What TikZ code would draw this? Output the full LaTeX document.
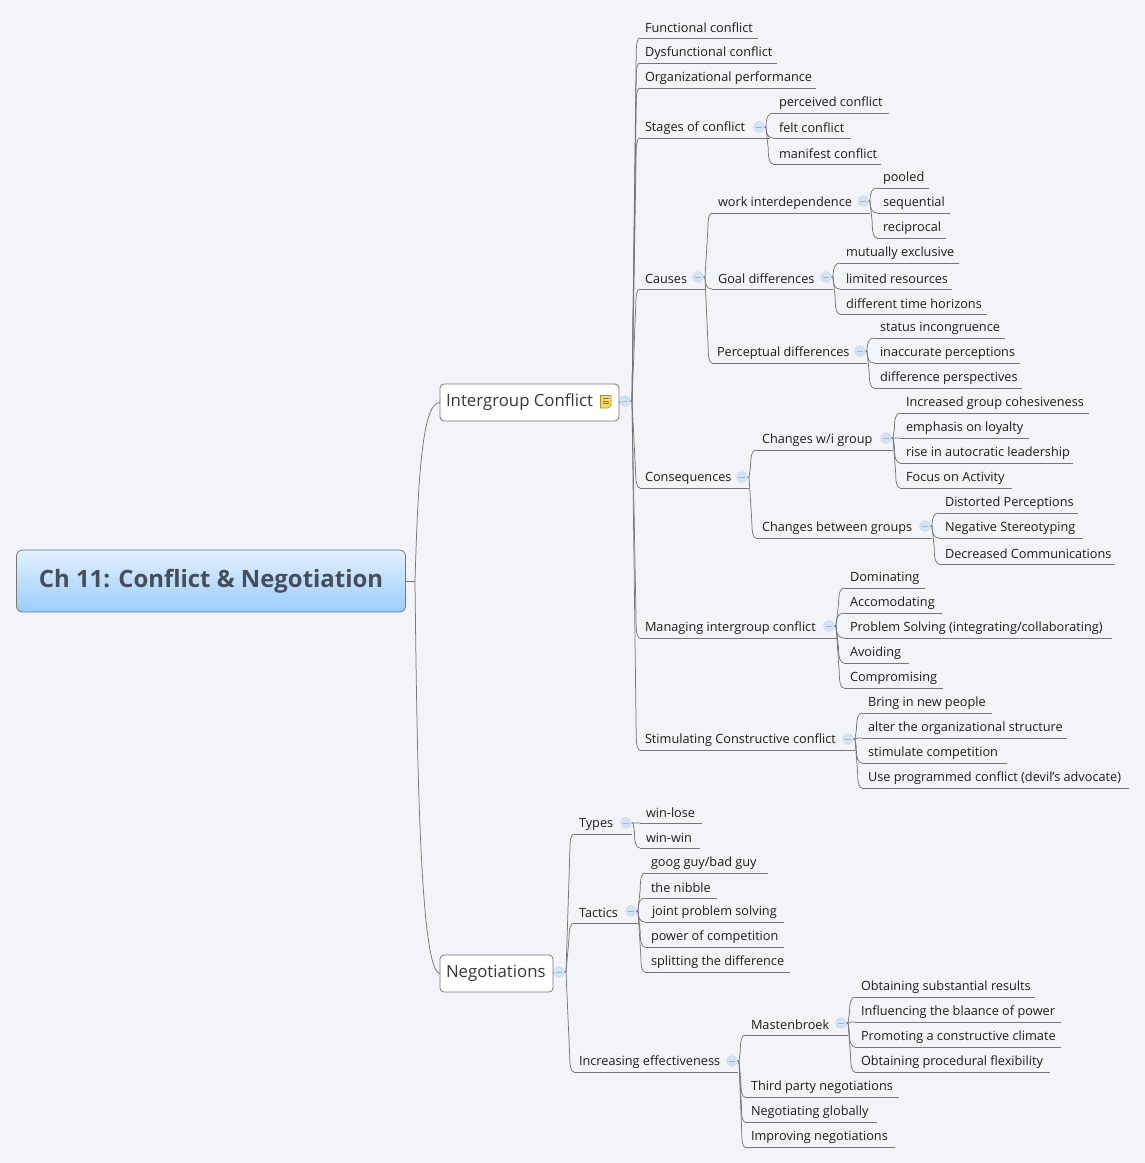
\documentclass[tikz,border=0pt]{standalone}
\usepackage{fontspec}
\setmainfont{Open Sans}
\usetikzlibrary{shadings}
\definecolor{bgc}{HTML}{F2F4F9}
\definecolor{linec}{HTML}{777777}
\definecolor{txtc}{HTML}{1C1C1C}
\definecolor{minusc}{HTML}{D3E2F5}
\definecolor{minusb}{HTML}{C4D8F0}
\definecolor{minusl}{HTML}{9DB8DC}
\definecolor{roottop}{HTML}{E2F0FE}
\definecolor{rootbot}{HTML}{9CCDFF}
\definecolor{roottxt}{HTML}{444F59}
\definecolor{notef}{HTML}{F5DC6E}
\definecolor{noted}{HTML}{C08A1E}
\tikzset{
  conn/.style={draw=linec,line width=0.75pt},
  topicbox/.style={inner sep=0pt,outer sep=0pt,rectangle,text=txtc,font=\fontsize{12.72}{14}\selectfont},
  mainbox/.style={draw=linec,fill=white,rounded corners=4pt,inner sep=0pt,outer sep=0pt,line width=0.8pt,text=black!78,font=\fontsize{16.8}{18}\selectfont},
  collapser/.style={circle,inner sep=0pt,outer sep=0pt,minimum size=11pt,fill=minusc,draw=minusb,line width=0.4pt,
    path picture={\draw[minusl,line width=0.7pt] ([xshift=-3pt]path picture bounding box.center) -- ([xshift=3pt]path picture bounding box.center);}},
}
\newcommand\lnk[2]{%
  \path ([xshift=1.5pt]#1.east); \pgfgetlastxy{\lnkSx}{\lnkSy}%
  \path (#2.south west); \pgfgetlastxy{\lnkEx}{\lnkEy}%
  \pgfmathsetmacro\lnkD{\lnkEy-\lnkSy}%
  \pgfmathsetmacro\lnkA{max(abs(\lnkD),0.01)}%
  \pgfmathsetmacro\lnkG{\lnkD<0?-1:1}%
  \pgfmathsetmacro\lnkR{min(16,\lnkA)}%
  \pgfmathsetmacro\lnkPx{\lnkSx+0.55*(\lnkEx-\lnkSx)*(1-\lnkR/\lnkA)}%
  \pgfmathsetmacro\lnkPy{\lnkEy-\lnkG*\lnkR}%
  \pgfmathsetmacro\lnkCy{\lnkEy-\lnkG*\lnkR*0.35}%
  \pgfmathsetmacro\lnkCx{\lnkPx+0.3*(\lnkEx-\lnkPx)}%
  \draw[conn] (#1.east) -- ([xshift=1.5pt]#1.east) -- (\lnkPx pt,\lnkPy pt) .. controls (\lnkPx pt,\lnkCy pt) and (\lnkCx pt,\lnkEy) .. (#2.south west);%
}
% id, parent, text, text x, underline y, left x, right x
\newcommand\topic[7]{%
  \pgfmathsetmacro\tpW{#7-#6}%
  \pgfmathsetmacro\tpD{#4-#6}%
  \node[topicbox,anchor=south west,minimum width=\tpW pt,minimum height=24pt] (#1) at (#6,#5)
    {\hbox to \tpW pt{\hskip\tpD pt\rule[-1.5pt]{0pt}{15pt}#3\hss}};
  \draw[conn] (#1.south west) -- (#1.south east);
  \lnk{#2}{#1}%
}
\newcommand\mn[3]{\node[collapser] (#1) at (#2,#3) {};}
\begin{document}
\begin{tikzpicture}[x=1pt,y=-1pt]
\fill[bgc] (0,0) rectangle (1145,1163);
\useasboundingbox (0,0) rectangle (1145,1163);
% main
\node[draw=linec,rounded corners=6pt,top color=roottop,bottom color=rootbot,minimum width=389pt,minimum height=62pt,inner sep=0pt,outer sep=0pt,line width=0.8pt,text=roottxt,font=\fontsize{23.9}{26}\selectfont\bfseries] (root) at (211,581) {\raisebox{-1.2pt}{Ch 11: Conflict \& Negotiation}};
\coordinate (rootj) at (415,581);
\draw[conn] (root.east) -- (rootj);
\node[mainbox,minimum width=179pt,minimum height=37pt,anchor=north west] (ig) at (440,384)
  {\hbox to 179pt{\hskip6pt\rule[-5.5pt]{0pt}{18pt}Intergroup Conflict\hss}};
\node[mainbox,minimum width=113pt,minimum height=37pt,anchor=north west] (neg) at (440,955)
  {\hbox to 113pt{\hskip6pt\rule[-5.5pt]{0pt}{18pt}Negotiations\hss}};
% note icon
\draw[draw=noted,fill=notef,line width=0.7pt] (600.5,395.5) -- (611,395.5) -- (611,405) -- (608,408) -- (600.5,408) -- cycle;
\foreach \yy in {398.5,401,403.5} \draw[black!55,line width=0.6pt] (602.5,\yy) -- (609,\yy);
\draw[conn] (rootj) .. controls (418,480) and (422,402) .. (ig.west);
\draw[conn] (rootj) .. controls (417,760) and (420,972) .. (neg.west);
\mn{igm}{625}{401}
\mn{negm}{559}{972}
\draw[conn] (ig.east) -- (igm.west);
\draw[conn] (neg.east) -- (negm.west);
% Intergroup
\topic{a1}{igm}{Functional conflict}{645}{38}{640}{758}
\topic{a2}{igm}{Dysfunctional conflict}{645}{63}{640}{777}
\topic{a3}{igm}{Organizational performance}{645}{88}{640}{816}
\topic{a4}{igm}{Stages of conflict}{645}{138}{640}{770}
\mn{a4m}{759}{127}
\topic{a41}{a4m}{perceived conflict}{779}{113}{773}{889}
\topic{a42}{a4m}{felt conflict}{779}{138}{773}{851}
\topic{a43}{a4m}{manifest conflict}{779}{164}{773}{881}
\topic{a5}{igm}{Causes}{645}{289}{640}{705}
\mn{a5m}{698}{277}
\topic{a51}{a5m}{work interdependence}{718}{213}{712}{870}
\mn{a51m}{863}{201}
\topic{a511}{a51m}{pooled}{883}{188}{877}{929}
\topic{a512}{a51m}{sequential}{883}{213}{877}{950}
\topic{a513}{a51m}{reciprocal}{883}{238}{877}{946}
\topic{a52}{a5m}{Goal differences}{718}{289}{712}{833}
\mn{a52m}{826}{277}
\topic{a521}{a52m}{mutually exclusive}{846}{263}{840}{959}
\topic{a522}{a52m}{limited resources}{846}{289}{840}{952}
\topic{a523}{a52m}{different time horizons}{846}{314}{840}{987}
\topic{a53}{a5m}{Perceptual differences}{717}{363}{712}{867}
\mn{a53m}{860}{351}
\topic{a531}{a53m}{status incongruence}{880}{338}{874}{1005}
\topic{a532}{a53m}{inaccurate perceptions}{880}{363}{874}{1020}
\topic{a533}{a53m}{difference perspectives}{880}{388}{874}{1022}
\topic{a6}{igm}{Consequences}{645}{488}{640}{749}
\mn{a6m}{742}{477}
\topic{a61}{a6m}{Changes w/i group}{762}{450}{756}{893}
\mn{a61m}{886}{438}
\topic{a611}{a61m}{Increased group cohesiveness}{906}{413}{900}{1089}
\topic{a612}{a61m}{emphasis on loyalty}{906}{438}{900}{1029}
\topic{a613}{a61m}{rise in autocratic leadership}{906}{463}{900}{1073}
\topic{a614}{a61m}{Focus on Activity}{906}{488}{900}{1012}
\topic{a62}{a6m}{Changes between groups}{762}{538}{756}{932}
\mn{a62m}{925}{526}
\topic{a621}{a62m}{Distorted Perceptions}{945}{513}{939}{1078}
\topic{a622}{a62m}{Negative Stereotyping}{945}{538}{939}{1083}
\topic{a623}{a62m}{Decreased Communications}{945}{564}{939}{1115}
\topic{a7}{igm}{Managing intergroup conflict}{645}{638}{640}{837}
\mn{a7m}{829}{626}
\topic{a71}{a7m}{Dominating}{850}{588}{844}{925}
\topic{a72}{a7m}{Accomodating}{850}{613}{844}{942}
\topic{a73}{a7m}{Problem Solving (integrating/collaborating)}{850}{638}{844}{1112}
\topic{a74}{a7m}{Avoiding}{850}{663}{844}{909}
\topic{a75}{a7m}{Compromising}{850}{688}{844}{943}
\topic{a8}{igm}{Stimulating Constructive conflict}{645}{750}{640}{855}
\mn{a8m}{848}{739}
\topic{a81}{a8m}{Bring in new people}{868}{713}{862}{992}
\topic{a82}{a8m}{alter the organizational structure}{868}{738}{862}{1067}
\topic{a83}{a8m}{stimulate competition}{868}{763}{862}{1007}
\topic{a84}{a8m}{Use programmed conflict (devil's advocate)}{868}{788}{862}{1129}
% Negotiations
\topic{b1}{negm}{Types}{579}{834}{574}{632}
\mn{b1m}{626}{823}
\topic{b11}{b1m}{win-lose}{646}{823}{640}{702}
\topic{b12}{b1m}{win-win}{646}{848}{640}{700}
\topic{b2}{negm}{Tactics}{579}{923}{574}{638}
\mn{b2m}{631}{911}
\topic{b21}{b2m}{goog guy/bad guy}{651}{873}{645}{768}
\topic{b22}{b2m}{the nibble}{651}{898}{645}{717}
\topic{b23}{b2m}{joint problem solving}{652}{922}{645}{784}
\topic{b24}{b2m}{power of competition}{651}{947}{645}{784}
\topic{b25}{b2m}{splitting the difference}{651}{972}{645}{790}
\topic{b3}{negm}{Increasing effectiveness}{579}{1072}{574}{738}
\mn{b3m}{732}{1061}
\topic{b31}{b3m}{Mastenbroek}{751}{1035}{745}{848}
\mn{b31m}{841}{1023}
\topic{b311}{b31m}{Obtaining substantial results}{861}{997}{855}{1035}
\topic{b312}{b31m}{Influencing the blaance of power}{861}{1022}{855}{1061}
\topic{b313}{b31m}{Promoting a constructive climate}{861}{1047}{855}{1061}
\topic{b314}{b31m}{Obtaining procedural flexibility}{861}{1072}{855}{1050}
\topic{b32}{b3m}{Third party negotiations}{751}{1097}{745}{899}
\topic{b33}{b3m}{Negotiating globally}{751}{1122}{745}{877}
\topic{b34}{b3m}{Improving negotiations}{751}{1147}{745}{895}
\end{tikzpicture}
\end{document}
